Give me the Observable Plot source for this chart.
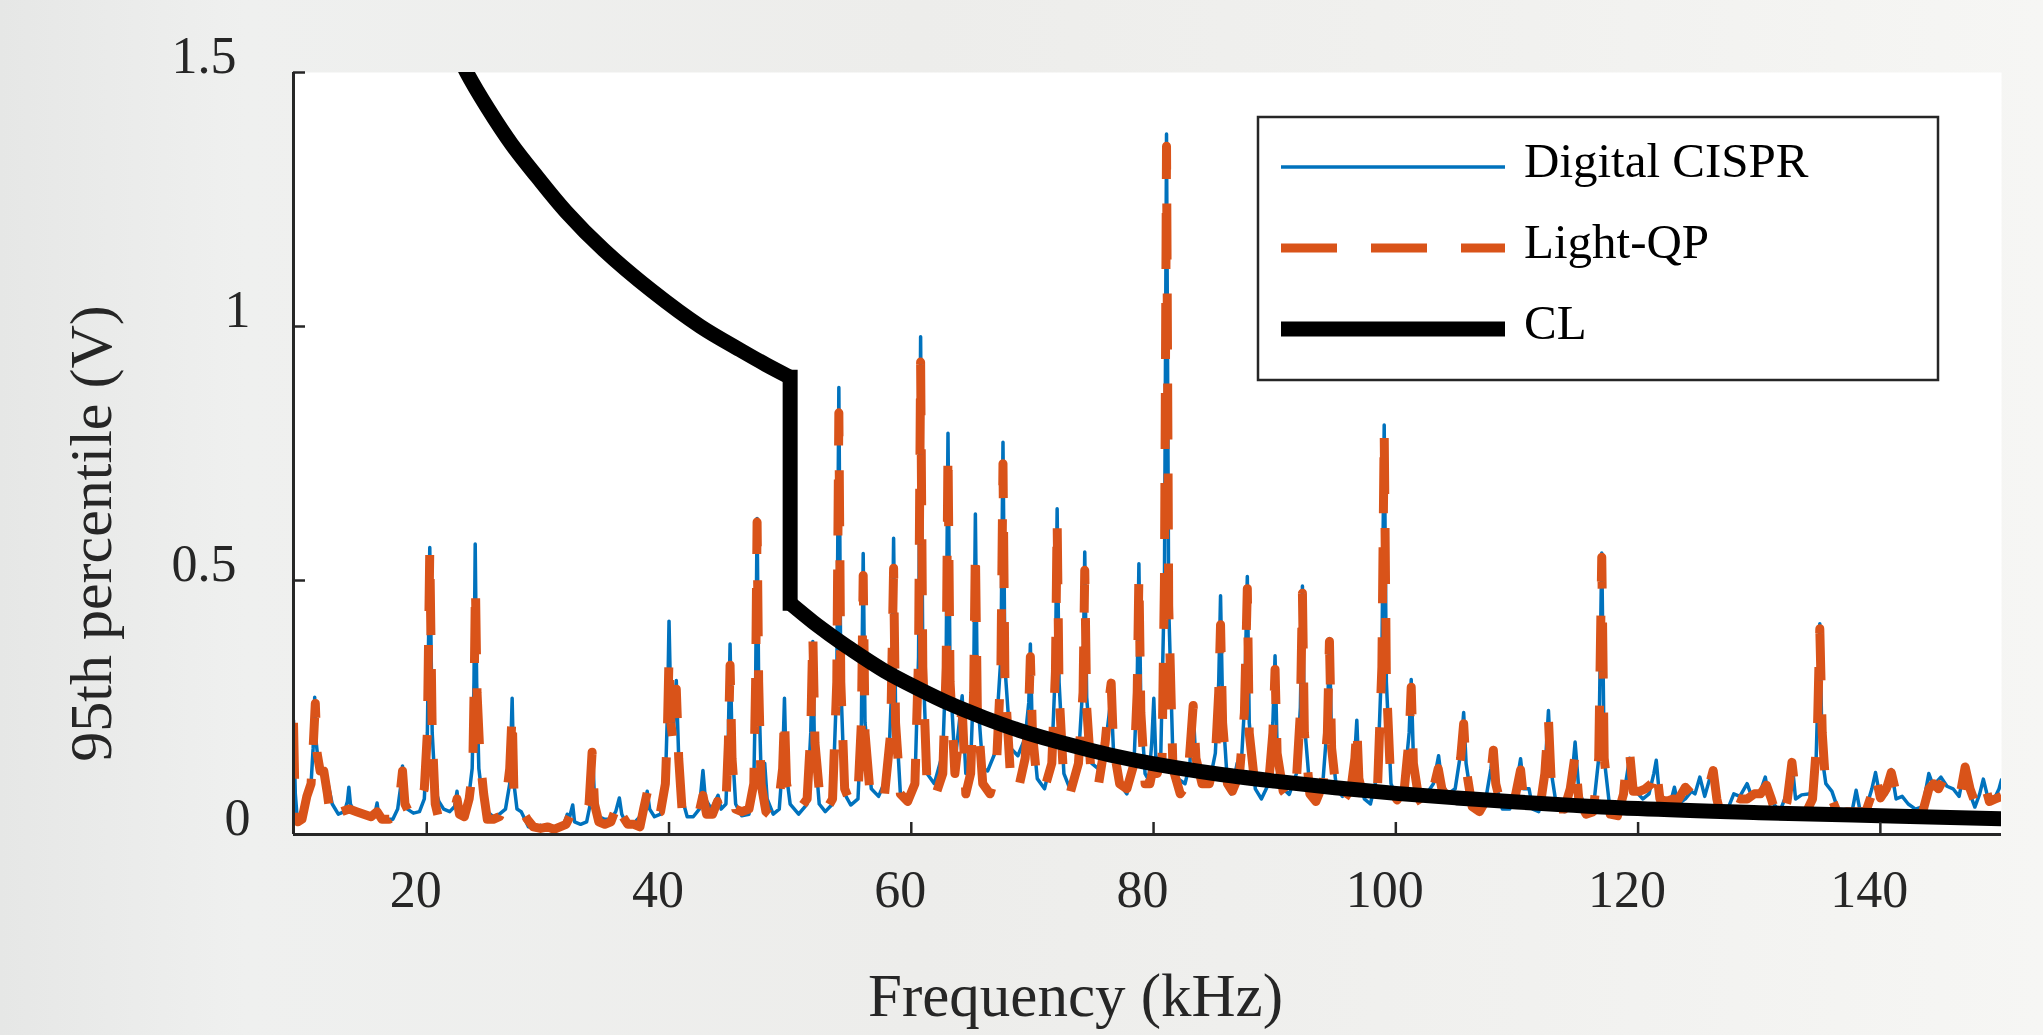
<!DOCTYPE html>
<html>
<head>
<meta charset="utf-8">
<script src="https://cdn.jsdelivr.net/npm/d3@7"></script>
<script src="https://cdn.jsdelivr.net/npm/@observablehq/plot@0.6"></script>
<style>
  html, body { margin: 0; padding: 0; overflow: hidden; }
  body {
    width: 2043px; height: 1035px;
    background: linear-gradient(to right, #e6e7e6 0%, #eff0ef 12%, #ededeb 45%, #f1f1ef 75%, #f6f6f4 100%);
    font-family: "Liberation Serif", "Times New Roman", serif;
  }
  #wrap { position: relative; width: 2043px; height: 1035px; }
  #legend { position: absolute; left: 0; top: 0; }
</style>
</head>
<body>
<div id="wrap"></div>
<script>
// ---------------- data ----------------
const freqTicks = [20, 40, 60, 80, 100, 120, 140];
const voltTicksWhole = [0, 1];
const voltTicksHalf = [0.5, 1.5];
const seriesNames = ["Digital CISPR", "Light-QP", "CL"];
const seriesColors = ["#0072BD", "#D95319", "#000000"];

// Digital CISPR: [frequency kHz, 95th percentile V]
const digitalCISPR = [
[9.0,0.225],[9.15,0.08],[9.35,0.02],[9.7,0.03],[10.1,0.06],[10.45,0.1],[10.62,0.17],[10.75,0.27],[10.88,0.18],[11.1,0.13],[11.5,0.125],[11.8,0.105],[12.2,0.06],[12.7,0.04],[13.2,0.045],[13.45,0.065],[13.57,0.093],[13.7,0.06],[14.0,0.045],[14.5,0.042],[15.0,0.038],[15.5,0.035],[15.8,0.05],[15.9,0.062],[16.05,0.035],[16.6,0.03],[17.2,0.03],[17.6,0.05],[17.88,0.1],[18.0,0.135],[18.15,0.085],[18.4,0.05],[18.9,0.042],[19.4,0.045],[19.8,0.07],[20.05,0.2],[20.25,0.565],[20.45,0.2],[20.7,0.09],[21.0,0.065],[21.4,0.05],[21.9,0.045],[22.3,0.055],[22.5,0.085],[22.65,0.05],[23.0,0.045],[23.4,0.06],[23.75,0.13],[23.9,0.3],[24.0,0.572],[24.12,0.3],[24.3,0.13],[24.6,0.07],[25.0,0.045],[25.5,0.035],[26.0,0.04],[26.5,0.05],[26.85,0.1],[27.05,0.268],[27.2,0.1],[27.45,0.05],[27.8,0.045],[28.1,0.03],[28.4,0.015],[28.9,0.012],[29.4,0.018],[29.9,0.01],[30.4,0.016],[30.9,0.012],[31.4,0.025],[31.6,0.04],[31.8,0.035],[32.05,0.058],[32.2,0.025],[32.7,0.02],[33.2,0.025],[33.5,0.06],[33.7,0.155],[33.85,0.07],[34.2,0.035],[34.7,0.03],[35.2,0.03],[35.6,0.045],[35.9,0.072],[36.1,0.04],[36.5,0.02],[37.0,0.02],[37.6,0.035],[38.0,0.06],[38.2,0.085],[38.4,0.05],[38.8,0.035],[39.3,0.04],[39.7,0.1],[39.88,0.25],[40.0,0.42],[40.15,0.25],[40.35,0.2],[40.6,0.303],[40.8,0.15],[41.1,0.07],[41.5,0.035],[42.0,0.035],[42.5,0.05],[42.8,0.126],[43.0,0.07],[43.5,0.05],[44.05,0.077],[44.3,0.05],[44.7,0.06],[44.9,0.2],[45.04,0.375],[45.2,0.18],[45.5,0.06],[46.0,0.037],[46.6,0.04],[47.0,0.1],[47.15,0.3],[47.27,0.622],[47.4,0.3],[47.6,0.12],[47.9,0.14],[48.1,0.07],[48.6,0.04],[49.1,0.05],[49.38,0.14],[49.53,0.268],[49.68,0.12],[50.0,0.06],[50.7,0.04],[51.4,0.06],[51.7,0.2],[51.87,0.38],[52.0,0.18],[52.4,0.06],[52.9,0.045],[53.5,0.06],[53.85,0.3],[54.02,0.88],[54.18,0.3],[54.5,0.08],[55.0,0.058],[55.6,0.07],[55.88,0.22],[56.03,0.553],[56.18,0.22],[56.7,0.09],[57.3,0.075],[58.1,0.12],[58.4,0.3],[58.54,0.583],[58.7,0.25],[59.1,0.08],[59.7,0.06],[60.3,0.1],[60.6,0.35],[60.77,0.98],[60.95,0.35],[61.3,0.12],[61.9,0.1],[62.6,0.16],[62.88,0.35],[63.03,0.79],[63.2,0.32],[63.6,0.14],[64.2,0.273],[64.5,0.12],[64.9,0.14],[65.15,0.3],[65.29,0.631],[65.45,0.28],[65.9,0.13],[66.3,0.125],[66.9,0.16],[67.4,0.35],[67.57,0.772],[67.73,0.33],[68.2,0.17],[68.8,0.155],[69.4,0.19],[69.7,0.26],[69.83,0.375],[69.97,0.22],[70.4,0.11],[71.0,0.09],[71.6,0.15],[71.9,0.33],[72.04,0.641],[72.2,0.3],[72.6,0.12],[73.1,0.09],[73.8,0.15],[74.18,0.3],[74.32,0.556],[74.48,0.27],[74.9,0.14],[75.4,0.13],[76.0,0.17],[76.35,0.24],[76.5,0.27],[76.7,0.16],[77.2,0.1],[77.8,0.08],[78.4,0.15],[78.65,0.3],[78.79,0.533],[78.95,0.25],[79.3,0.12],[79.6,0.107],[79.85,0.18],[80.02,0.268],[80.2,0.14],[80.6,0.16],[80.9,0.5],[81.07,1.379],[81.25,0.45],[81.6,0.15],[82.0,0.11],[82.6,0.1],[83.0,0.14],[83.27,0.245],[83.5,0.14],[84.0,0.1],[84.6,0.1],[85.1,0.16],[85.38,0.3],[85.53,0.47],[85.7,0.25],[86.1,0.1],[86.4,0.08],[86.9,0.14],[87.2,0.12],[87.5,0.25],[87.74,0.508],[87.9,0.22],[88.4,0.09],[88.9,0.07],[89.5,0.1],[89.85,0.22],[90.03,0.352],[90.2,0.17],[90.7,0.09],[91.2,0.079],[91.8,0.12],[92.12,0.25],[92.29,0.489],[92.45,0.22],[92.9,0.09],[93.4,0.07],[94.0,0.11],[94.35,0.22],[94.52,0.386],[94.7,0.18],[95.1,0.09],[95.6,0.075],[96.3,0.1],[96.62,0.16],[96.78,0.225],[96.95,0.12],[97.4,0.07],[97.9,0.06],[98.5,0.12],[98.85,0.35],[99.04,0.806],[99.22,0.3],[99.6,0.1],[100.1,0.07],[100.7,0.1],[101.1,0.2],[101.27,0.305],[101.45,0.15],[101.9,0.08],[102.4,0.075],[103.1,0.1],[103.53,0.155],[103.8,0.1],[104.3,0.08],[104.9,0.09],[105.35,0.16],[105.6,0.24],[105.8,0.14],[106.3,0.06],[106.9,0.047],[107.5,0.08],[107.85,0.13],[108.05,0.171],[108.25,0.1],[108.8,0.05],[109.4,0.05],[109.9,0.09],[110.3,0.149],[110.55,0.09],[111.0,0.09],[111.3,0.05],[111.8,0.045],[112.3,0.12],[112.6,0.244],[112.85,0.12],[113.3,0.05],[113.9,0.045],[114.5,0.1],[114.8,0.182],[115.1,0.09],[115.7,0.045],[116.3,0.05],[116.75,0.15],[117.0,0.554],[117.2,0.15],[117.7,0.045],[118.3,0.04],[118.9,0.09],[119.3,0.15],[119.6,0.09],[120.0,0.08],[120.4,0.07],[120.9,0.08],[121.3,0.12],[121.5,0.146],[121.75,0.08],[122.2,0.063],[122.7,0.065],[123.0,0.093],[123.3,0.06],[123.9,0.07],[124.4,0.085],[124.7,0.08],[125.1,0.113],[125.5,0.075],[126.1,0.126],[126.5,0.06],[126.9,0.034],[127.4,0.05],[127.9,0.08],[128.4,0.075],[129.0,0.1],[129.3,0.08],[129.8,0.08],[130.1,0.085],[130.5,0.113],[130.8,0.07],[131.2,0.06],[131.7,0.045],[132.2,0.076],[132.45,0.1],[132.7,0.144],[133.0,0.07],[133.5,0.078],[134.2,0.08],[134.7,0.15],[135.0,0.415],[135.2,0.15],[135.5,0.1],[136.0,0.085],[136.5,0.05],[137.2,0.045],[137.7,0.05],[138.0,0.087],[138.3,0.05],[138.8,0.05],[139.3,0.09],[139.6,0.122],[140.0,0.07],[140.5,0.08],[140.9,0.128],[141.3,0.07],[141.8,0.075],[142.3,0.06],[142.9,0.05],[143.5,0.055],[144.0,0.12],[144.3,0.1],[144.7,0.105],[145.0,0.113],[145.5,0.095],[146.0,0.09],[146.5,0.075],[147.0,0.136],[147.4,0.08],[147.8,0.054],[148.2,0.08],[148.5,0.109],[148.9,0.07],[149.4,0.07],[149.8,0.09],[150.0,0.108]
];

// Light-QP: [frequency kHz, 95th percentile V]
const lightQP = [
[9.0,0.22],[9.15,0.04],[9.35,0.025],[9.7,0.03],[10.1,0.075],[10.45,0.1],[10.62,0.17],[10.8,0.258],[10.95,0.16],[11.2,0.125],[11.5,0.125],[11.8,0.08],[12.1,0.025],[12.6,0.03],[13.0,0.045],[13.6,0.05],[14.2,0.045],[14.8,0.04],[15.4,0.035],[15.9,0.045],[16.3,0.03],[16.9,0.03],[17.4,0.04],[17.8,0.08],[18.0,0.125],[18.2,0.06],[18.6,0.04],[19.1,0.045],[19.4,0.06],[19.8,0.09],[20.05,0.2],[20.25,0.56],[20.45,0.2],[20.7,0.06],[21.0,0.03],[21.5,0.025],[21.9,0.03],[22.3,0.05],[22.5,0.07],[22.7,0.04],[23.1,0.035],[23.5,0.07],[23.8,0.13],[23.92,0.3],[24.02,0.49],[24.15,0.28],[24.4,0.15],[24.7,0.08],[25.0,0.03],[25.5,0.03],[26.0,0.035],[26.5,0.06],[26.85,0.13],[27.05,0.24],[27.2,0.08],[27.5,0.045],[27.9,0.045],[28.3,0.03],[28.8,0.015],[29.4,0.012],[30.0,0.015],[30.5,0.01],[31.0,0.015],[31.5,0.02],[31.8,0.035],[32.1,0.025],[32.6,0.02],[33.0,0.03],[33.4,0.06],[33.65,0.162],[33.85,0.06],[34.2,0.025],[34.7,0.02],[35.2,0.025],[35.6,0.05],[35.9,0.07],[36.2,0.035],[36.6,0.02],[37.1,0.02],[37.6,0.015],[37.9,0.05],[38.25,0.088],[38.5,0.05],[38.9,0.04],[39.3,0.045],[39.7,0.1],[39.88,0.22],[40.0,0.35],[40.15,0.22],[40.35,0.18],[40.6,0.286],[40.8,0.15],[41.1,0.04],[41.5,0.025],[42.0,0.03],[42.5,0.045],[42.8,0.077],[43.1,0.04],[43.6,0.04],[44.0,0.065],[44.3,0.04],[44.7,0.06],[44.9,0.18],[45.04,0.333],[45.2,0.15],[45.5,0.05],[46.0,0.045],[46.6,0.05],[47.0,0.1],[47.15,0.3],[47.27,0.615],[47.4,0.3],[47.6,0.1],[48.0,0.045],[48.5,0.035],[49.0,0.05],[49.38,0.13],[49.53,0.235],[49.7,0.1],[50.1,0.055],[50.8,0.05],[51.4,0.07],[51.7,0.2],[51.87,0.395],[52.05,0.18],[52.5,0.06],[52.9,0.045],[53.5,0.07],[53.85,0.3],[54.02,0.83],[54.18,0.3],[54.5,0.09],[55.0,0.06],[55.6,0.08],[55.88,0.22],[56.03,0.51],[56.18,0.2],[56.6,0.08],[57.1,0.06],[57.8,0.08],[58.3,0.2],[58.54,0.524],[58.7,0.22],[59.1,0.08],[59.7,0.065],[60.3,0.1],[60.6,0.35],[60.77,0.93],[60.95,0.33],[61.3,0.1],[61.9,0.07],[62.6,0.12],[62.88,0.33],[63.03,0.755],[63.2,0.3],[63.6,0.12],[64.2,0.25],[64.5,0.08],[64.9,0.12],[65.15,0.28],[65.29,0.563],[65.45,0.25],[65.9,0.1],[66.5,0.08],[67.0,0.12],[67.4,0.33],[67.57,0.73],[67.73,0.3],[68.2,0.11],[68.8,0.085],[69.4,0.15],[69.7,0.25],[69.83,0.35],[70.0,0.2],[70.4,0.1],[71.0,0.09],[71.6,0.14],[71.9,0.32],[72.04,0.618],[72.2,0.28],[72.6,0.1],[73.1,0.08],[73.8,0.14],[74.18,0.28],[74.32,0.52],[74.48,0.25],[74.9,0.1],[75.4,0.09],[76.0,0.18],[76.35,0.27],[76.5,0.298],[76.7,0.17],[77.2,0.1],[77.8,0.09],[78.4,0.14],[78.65,0.28],[78.79,0.51],[78.95,0.24],[79.3,0.1],[79.7,0.1],[80.0,0.135],[80.3,0.12],[80.7,0.15],[80.9,0.5],[81.07,1.355],[81.25,0.45],[81.6,0.13],[82.2,0.08],[82.8,0.1],[83.05,0.18],[83.27,0.254],[83.5,0.15],[84.0,0.1],[84.6,0.1],[85.1,0.15],[85.38,0.28],[85.53,0.413],[85.7,0.22],[86.1,0.1],[86.5,0.085],[87.1,0.12],[87.5,0.24],[87.74,0.484],[87.9,0.2],[88.4,0.09],[88.9,0.074],[89.5,0.1],[89.85,0.2],[90.03,0.325],[90.2,0.16],[90.7,0.085],[91.2,0.07],[91.8,0.11],[92.12,0.24],[92.29,0.475],[92.45,0.2],[92.9,0.08],[93.4,0.065],[94.0,0.1],[94.35,0.2],[94.52,0.38],[94.7,0.17],[95.1,0.08],[95.6,0.065],[96.3,0.09],[96.62,0.15],[96.78,0.215],[96.95,0.11],[97.4,0.065],[97.9,0.06],[98.5,0.1],[98.85,0.33],[99.04,0.795],[99.22,0.3],[99.6,0.09],[100.1,0.068],[100.7,0.09],[101.1,0.19],[101.27,0.29],[101.45,0.14],[101.9,0.07],[102.4,0.051],[103.0,0.08],[103.5,0.13],[103.8,0.09],[104.3,0.07],[104.9,0.08],[105.35,0.15],[105.6,0.218],[105.8,0.13],[106.3,0.055],[106.9,0.045],[107.5,0.07],[107.85,0.12],[108.05,0.166],[108.25,0.1],[108.8,0.045],[109.4,0.045],[109.9,0.08],[110.3,0.127],[110.55,0.07],[111.0,0.05],[111.5,0.045],[112.0,0.07],[112.3,0.12],[112.6,0.227],[112.85,0.09],[113.3,0.05],[113.9,0.05],[114.4,0.09],[114.8,0.157],[115.1,0.07],[115.7,0.04],[116.3,0.045],[116.75,0.15],[117.0,0.546],[117.2,0.15],[117.7,0.04],[118.3,0.037],[118.8,0.08],[119.1,0.16],[119.3,0.162],[119.6,0.085],[120.1,0.085],[120.6,0.09],[121.1,0.1],[121.5,0.133],[121.8,0.07],[122.3,0.065],[122.9,0.07],[123.3,0.068],[123.9,0.093],[124.4,0.08],[124.8,0.085],[125.3,0.1],[125.8,0.09],[126.2,0.126],[126.5,0.07],[126.9,0.03],[127.4,0.04],[127.9,0.075],[128.4,0.07],[129.0,0.07],[129.6,0.08],[130.1,0.08],[130.6,0.097],[131.0,0.07],[131.5,0.03],[132.0,0.04],[132.3,0.065],[132.7,0.142],[133.0,0.08],[133.5,0.065],[134.0,0.05],[134.4,0.07],[134.8,0.2],[135.0,0.405],[135.2,0.2],[135.5,0.09],[136.0,0.07],[136.5,0.04],[137.3,0.045],[138.0,0.045],[138.8,0.045],[139.3,0.08],[139.6,0.118],[140.0,0.072],[140.5,0.09],[140.9,0.122],[141.3,0.082],[141.8,0.06],[142.3,0.045],[142.9,0.04],[143.5,0.045],[144.0,0.09],[144.4,0.1],[144.8,0.09],[145.3,0.113],[145.7,0.09],[146.2,0.085],[146.6,0.08],[147.0,0.133],[147.4,0.09],[147.8,0.064],[148.2,0.08],[148.6,0.1],[149.0,0.065],[149.5,0.07],[150.0,0.075]
];

// CL (compatibility level) curve: left branch, step at 50 kHz, right branch
const clFreq = [23.0, 23.3, 25, 27, 29.1, 31.5, 34.6, 38.6, 42.6, 46, 48, 50,
                50, 50,
                50, 51.9, 53.2, 55, 57.8, 60.5, 63.3, 66, 68.8, 71.6, 74.3, 77.1, 79.8, 85, 90, 95, 100, 105, 110, 120, 130, 140, 150];
const clVolt = [1.515, 1.5, 1.431, 1.359, 1.295, 1.226, 1.151, 1.07, 1.0, 0.952, 0.925, 0.9,
                0.9, 0.455,
                0.455, 0.418, 0.395, 0.365, 0.322, 0.288, 0.256, 0.23, 0.206, 0.186, 0.169, 0.153, 0.14, 0.12, 0.105, 0.092, 0.081, 0.072, 0.064, 0.051, 0.043, 0.037, 0.031];
const clPart = ["left","left","left","left","left","left","left","left","left","left","left","left",
                "step","step",
                "right","right","right","right","right","right","right","right","right","right","right","right","right","right","right","right","right","right","right","right","right","right","right"];

// ---------------- chart ----------------
const cl = clFreq.map((f, i) => ({f, v: clVolt[i], part: clPart[i]}));
const clBranches = cl.filter(d => d.part !== "step");
const clStep = cl.filter(d => d.part === "step");
const axisColor = "#262626";
const font = "'Liberation Serif', 'Times New Roman', serif";

const chart = Plot.plot({
  width: 2043,
  height: 1035,
  marginLeft: 293,
  marginRight: 42,
  marginTop: 72,
  marginBottom: 201,
  style: {background: "transparent", fontFamily: font, color: axisColor, overflow: "visible"},
  x: {domain: [9, 150]},
  y: {domain: [0, 1.5]},
  marks: [
    Plot.frame({fill: "white", stroke: "none"}),
    Plot.line(digitalCISPR, {x: d => d[0], y: d => d[1], stroke: seriesColors[0], strokeWidth: 3.5, strokeLinejoin: "round", clip: true}),
    Plot.line(lightQP, {x: d => d[0], y: d => d[1], stroke: seriesColors[1], strokeWidth: 9, strokeDasharray: "56,34", strokeLinecap: "butt", strokeLinejoin: "round", clip: true}),
    Plot.line(clBranches, {x: "f", y: "v", z: "part", curve: "catmull-rom", stroke: seriesColors[2], strokeWidth: 15, strokeLinecap: "butt", clip: true}),
    Plot.line(clStep, {x: "f", y: "v", stroke: seriesColors[2], strokeWidth: 15, strokeLinecap: "square", clip: true}),
    Plot.ruleY([0], {stroke: axisColor, strokeWidth: 3}),
    Plot.ruleX([9], {stroke: axisColor, strokeWidth: 3}),
    Plot.ruleX(freqTicks, {x: d => d, y1: 0, y2: 0, insetBottom: 12, stroke: axisColor, strokeWidth: 2.5}),
    Plot.ruleY(voltTicksWhole.concat(voltTicksHalf), {y: d => d, x1: 9, x2: 9, insetRight: -12, stroke: axisColor, strokeWidth: 2.5}),
    Plot.axisX({ticks: freqTicks, tickSize: 0, tickPadding: 36, dx: -11, fontSize: 52, label: null, fill: axisColor}),
    Plot.axisY({ticks: voltTicksWhole, tickFormat: d => String(d), tickSize: 0, tickPadding: 43, fontSize: 52, label: null, lineAnchor: "bottom", fill: axisColor}),
    Plot.axisY({ticks: voltTicksHalf, tickFormat: d => String(d), tickSize: 0, tickPadding: 57, fontSize: 52, label: null, lineAnchor: "bottom", fill: axisColor}),
    Plot.text(["Frequency (kHz)"], {frameAnchor: "bottom", textAnchor: "middle", dx: -72, dy: 181, lineAnchor: "bottom", fontSize: 61, fill: axisColor}),
    Plot.text(["95th percentile (V)"], {frameAnchor: "left", textAnchor: "middle", rotate: -90, dx: -183, dy: 80, lineAnchor: "bottom", fontSize: 60, fill: axisColor})
  ]
});

const wrap = document.getElementById("wrap");
wrap.appendChild(chart);

// ---------------- legend (inside the axes, top right) ----------------
const ns = "http://www.w3.org/2000/svg";
const leg = document.createElementNS(ns, "svg");
leg.setAttribute("id", "legend");
leg.setAttribute("width", 2043);
leg.setAttribute("height", 1035);
const box = {x: 1258, y: 117, w: 680, h: 263};
const mk = (tag, attrs) => { const e = document.createElementNS(ns, tag); for (const k in attrs) e.setAttribute(k, attrs[k]); leg.appendChild(e); return e; };
mk("rect", {x: box.x, y: box.y, width: box.w, height: box.h, fill: "white", stroke: axisColor, "stroke-width": 2.5});
const rowY = [167, 248, 329];
const rowStyle = [
  {"stroke-width": 3.5},
  {"stroke-width": 9, "stroke-dasharray": "56,34"},
  {"stroke-width": 15}
];
seriesNames.forEach((name, i) => {
  mk("line", Object.assign({x1: 1281, x2: 1505, y1: rowY[i], y2: rowY[i], stroke: seriesColors[i], "stroke-linecap": "butt"}, rowStyle[i]));
  const t = mk("text", {x: 1524, y: rowY[i] + 10, "font-size": 49, "font-family": font, fill: "#000"});
  t.textContent = name;
});
wrap.appendChild(leg);
</script>
</body>
</html>
